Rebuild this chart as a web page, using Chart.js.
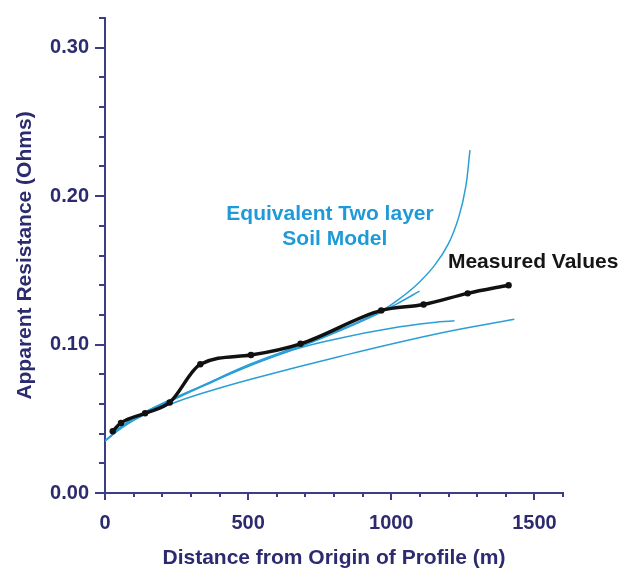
<!DOCTYPE html>
<html>
<head>
<meta charset="utf-8">
<script src="https://cdn.jsdelivr.net/npm/chart.js@4.4.1/dist/chart.umd.min.js"></script>
<style>
  html, body { margin: 0; padding: 0; background: #fff; }
  #wrap { width: 642px; height: 569px; }
</style>
</head>
<body>
<div id="wrap"><canvas id="res-chart" width="642" height="569"></canvas></div>
<script>
// Measured apparent resistance along the profile
const measuredX = [27, 56, 140, 226, 333, 510, 683, 965, 1113, 1267, 1410];
const measuredY = [0.0416, 0.0472, 0.0537, 0.061, 0.0867, 0.093, 0.1005, 0.123, 0.127, 0.1345, 0.140];

// Equivalent two layer soil model curves
const model1X = [0, 60, 120, 230, 331, 506, 683, 820, 959, 1017, 1087, 1150, 1200, 1236, 1260, 1275];
const model1Y = [0.035, 0.045, 0.0525, 0.0625, 0.0715, 0.0867, 0.0995, 0.110, 0.122, 0.1292, 0.1400, 0.1530, 0.1680, 0.1860, 0.2060, 0.231];

const model2X = [0, 60, 120, 230, 331, 506, 683, 820, 959, 1030, 1099];
const model2Y = [0.035, 0.045, 0.0525, 0.062, 0.071, 0.0858, 0.0985, 0.1092, 0.1212, 0.1285, 0.136];

const model3X = [0, 60, 120, 230, 331, 471, 650, 820, 1000, 1169, 1221];
const model3Y = [0.035, 0.045, 0.0525, 0.063, 0.0715, 0.083, 0.096, 0.1043, 0.111, 0.1153, 0.116];

const model4X = [0, 60, 120, 230, 331, 506, 820, 1169, 1430];
const model4Y = [0.035, 0.044, 0.051, 0.060, 0.0667, 0.0765, 0.092, 0.1076, 0.117];

const xTickLabels = [0, 500, 1000, 1500];
const yTickLabels = [0.0, 0.1, 0.2, 0.3];

const navy = '#2c2b6f';
const axisColor = '#3b3d86';
const blue = '#2a9fd6';

function pts(xs, ys) {
    return xs.map((x, i) => ({ x: x, y: ys[i] }));
}

function modelSet(xs, ys) {
    return {
        data: pts(xs, ys),
        borderColor: blue,
        borderWidth: 1.5,
        pointRadius: 0,
        fill: false,
        tension: 0.4
    };
}

// text annotations, anchored in data units
const notes = [
    { text: 'Equivalent Two layer', x: 786, y: 0.1877, color: '#1f9ad8', align: 'center' },
    { text: 'Soil Model', x: 803, y: 0.171, color: '#1f9ad8', align: 'center' },
    { text: 'Measured Values', x: 1198, y: 0.1554, color: '#151515', align: 'left' }
];

const extras = {
    id: 'extras',
    afterDraw(chart) {
        const ctx = chart.ctx;
        const xs = chart.scales.x, ys = chart.scales.y;
        ctx.save();
        ctx.strokeStyle = axisColor;
        ctx.lineWidth = 2;
        xs.ticks.forEach(t => {
            const px = Math.round(xs.getPixelForValue(t.value));
            const major = t.value % 500 === 0;
            ctx.beginPath();
            ctx.moveTo(px, xs.top);
            ctx.lineTo(px, xs.top + (major ? 7 : 4));
            ctx.stroke();
        });
        ys.ticks.forEach(t => {
            const py = Math.round(ys.getPixelForValue(t.value));
            const major = Math.round(t.value * 100) % 10 === 0;
            ctx.beginPath();
            ctx.moveTo(ys.right, py);
            ctx.lineTo(ys.right - (major ? 10 : 6), py);
            ctx.stroke();
        });
        ctx.font = 'bold 21px "Liberation Sans", Arial, sans-serif';
        ctx.textBaseline = 'middle';
        notes.forEach(n => {
            ctx.fillStyle = n.color;
            ctx.textAlign = n.align;
            ctx.fillText(n.text, xs.getPixelForValue(n.x), ys.getPixelForValue(n.y));
        });
        ctx.restore();
    }
};

const tickFont = { family: '"Liberation Sans", Arial, sans-serif', size: 20, weight: 'bold' };
const titleFont = { family: '"Liberation Sans", Arial, sans-serif', size: 21, weight: 'bold' };

new Chart(document.getElementById('res-chart').getContext('2d'), {
    type: 'line',
    data: {
        datasets: [
            {
                label: 'Measured Values',
                data: pts(measuredX, measuredY),
                borderColor: '#111',
                backgroundColor: '#111',
                borderWidth: 3.5,
                pointRadius: 3.2,
                pointBorderWidth: 0,
                fill: false,
                cubicInterpolationMode: 'monotone'
            },
            modelSet(model1X, model1Y),
            modelSet(model2X, model2Y),
            modelSet(model3X, model3Y),
            modelSet(model4X, model4Y)
        ]
    },
    options: {
        responsive: false,
        animation: false,
        layout: { padding: { top: 7, right: 79, left: 0, bottom: 0 } },
        plugins: {
            legend: { display: false },
            tooltip: { enabled: false }
        },
        scales: {
            x: {
                type: 'linear',
                min: 0,
                max: 1600,
                afterFit(scale) { scale.height = 76; },
                border: { display: true, color: axisColor, width: 2 },
                grid: { display: true, drawOnChartArea: false, drawTicks: true, tickLength: 7, color: 'rgba(0,0,0,0)' },
                ticks: {
                    stepSize: 100,
                    autoSkip: false,
                    maxRotation: 0,
                    padding: 11,
                    color: navy,
                    font: tickFont,
                    callback: v => xTickLabels.includes(v) ? String(v) : ''
                },
                title: {
                    display: true,
                    text: 'Distance from Origin of Profile (m)',
                    color: navy,
                    font: Object.assign({}, titleFont, { lineHeight: 1.0 }),
                    padding: { top: 0, bottom: 0 }
                }
            },
            y: {
                type: 'linear',
                min: 0,
                max: 0.32,
                afterFit(scale) { scale.width = 105; },
                border: { display: true, color: axisColor, width: 2 },
                grid: { display: true, drawOnChartArea: false, drawTicks: true, tickLength: 10, color: 'rgba(0,0,0,0)' },
                ticks: {
                    stepSize: 0.02,
                    autoSkip: false,
                    padding: 6,
                    color: navy,
                    font: tickFont,
                    callback: v => {
                        const hit = yTickLabels.find(l => Math.abs(l - v) < 1e-6);
                        return hit !== undefined ? hit.toFixed(2) : '';
                    }
                },
                title: {
                    display: true,
                    text: 'Apparent Resistance (Ohms)',
                    color: navy,
                    font: titleFont,
                    padding: { top: 13, bottom: 0 }
                }
            }
        }
    },
    plugins: [extras]
});
</script>
</body>
</html>
